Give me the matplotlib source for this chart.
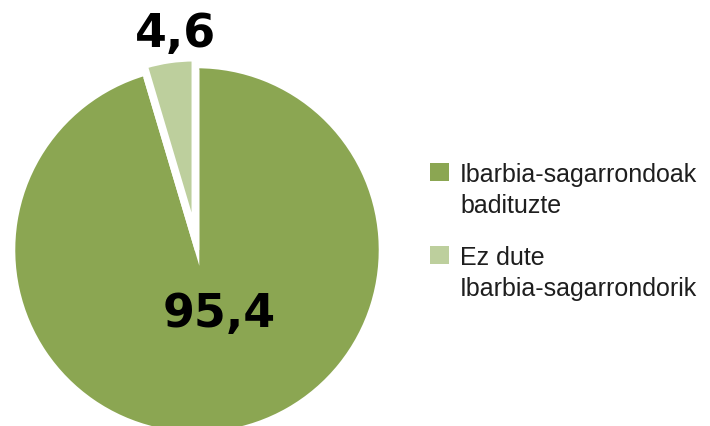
import math
import matplotlib
matplotlib.use("Agg")
import matplotlib.pyplot as plt
from matplotlib.patches import Rectangle, Wedge

categories = ["Ibarbia-sagarrondoak\nbadituzte", "Ez dute\nIbarbia-sagarrondorik"]
values = [95.4, 4.6]
value_labels = ["95,4", "4,6"]
colors = ["#8BA652", "#BDCF9D"]

W, H = 710, 426
fig = plt.figure(figsize=(W / 100, H / 100), dpi=100)
ax = fig.add_axes([0, 0, 1, 1])

R = 184
cx, cy = 197, H - 250
wedges, _ = ax.pie(values, startangle=90, counterclock=False,
                   explode=[0, 22], radius=R, center=(cx, cy),
                   colors=colors,
                   wedgeprops=dict(edgecolor="white", linewidth=3.3))
wedges[1].set_radius(169)
wedges[1].set_zorder(3)

# white gap around the detached slice (offset edges of the big slice)
t1, t2 = wedges[1].theta1, wedges[1].theta2
mid_big = math.radians((t1 + t2) / 2 + 180)
d = 16
gap = Wedge((cx + d * math.cos(mid_big), cy + d * math.sin(mid_big)), R + 12,
            t1, t2, facecolor="white", edgecolor="none", zorder=2)
ax.add_patch(gap)

ax.set_xlim(0, W)
ax.set_ylim(0, H)
ax.set_aspect("equal")
ax.axis("off")

label_pos = [(219, H - 315), (176, H - 35)]
for lab, (x, y) in zip(value_labels, label_pos):
    ax.text(x, y, lab, ha="center", va="center", fontsize=33,
            fontweight="heavy", family="DejaVu Sans", color="black", zorder=5)

# legend
sq_x, sq_w, sq_h = 430, 19, 18
entry_tops = [163, 246]
line_gap = 31
for cat, col, top in zip(categories, colors, entry_tops):
    ax.add_patch(Rectangle((sq_x, H - top - sq_h), sq_w, sq_h,
                           facecolor=col, edgecolor="none", clip_on=False))
    for i, line in enumerate(cat.split("\n")):
        ax.text(460, H - (top + 19 + i * line_gap), line, ha="left",
                va="baseline", fontsize=18, family="Liberation Sans",
                color="#1e1e1e")

fig.savefig("out.png", dpi=100)
